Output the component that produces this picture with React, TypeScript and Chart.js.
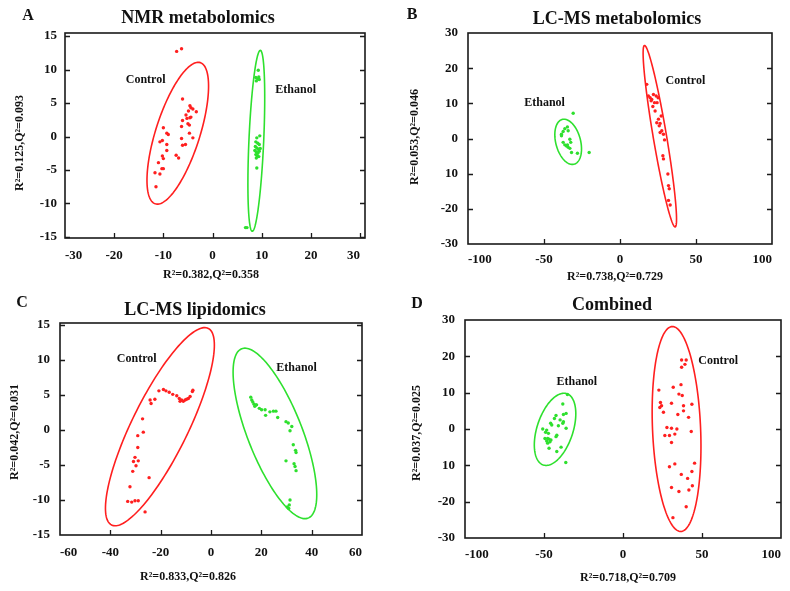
import React, { useEffect, useRef } from 'react';
import { Chart, registerables } from 'chart.js';
Chart.register(...registerables);

type XY = [number, number];

// ---------- Panel A: NMR metabolomics ----------
const aControl: XY[] = [[-7.3,12.7],[-6.3,13.1],[-6.1,5.6],[-4.6,4.6],[-4.4,4.3],[-4.9,3.8],[-4.0,4.1],[-3.3,3.7],[-5.4,3.2],[-5.2,2.7],[-4.6,2.8],[-6.1,2.4],[-6.3,1.5],[-5.0,1.9],[-4.7,1.7],[-4.4,2.9],[-10.0,1.3],[-9.3,0.5],[-9.0,0.3],[-10.7,-0.8],[-10.2,-0.6],[-9.3,-1.2],[-6.3,-0.3],[-6.1,-1.3],[-5.5,-1.2],[-4.7,0.5],[-4.0,-0.2],[-9.3,-2.1],[-10.2,-2.9],[-10.0,-3.3],[-7.4,-2.8],[-6.9,-3.2],[-11.0,-3.9],[-10.3,-4.8],[-10.0,-4.8],[-11.7,-5.4],[-10.7,-5.6],[-11.5,-7.5]];
const aEthanol: XY[] = [[9.3,9.9],[8.8,8.8],[9.2,8.6],[9.5,8.5],[8.9,8.3],[9.4,8.9],[9.6,0.1],[9.0,-0.2],[8.8,-0.8],[9.2,-1.0],[9.5,-1.2],[8.7,-1.5],[9.0,-1.7],[9.3,-1.9],[9.7,-1.8],[8.6,-2.1],[8.9,-2.3],[9.2,-2.5],[9.5,-2.2],[8.8,-2.7],[9.1,-2.9],[9.4,-3.0],[8.9,-3.2],[9.0,-4.7],[7.0,-13.6],[6.7,-13.6]];
const aXTicks = [-30, -20, -10, 0, 10, 20, 30];
const aXTickLabels = ['-30', '-20', '-10', '0', '10', '20', '30'];
const aYTicks = [-15, -10, -5, 0, 5, 10, 15];
const aYTickLabels = ['-15', '-10', '-5', '0', '5', '10', '15'];
// ellipse: [cx, cy, ux, uy, vx, vy]
const aControlEllipse = [-7.07, 0.49, 4.56, 10.54, 4.29, -0.96];
const aEthanolEllipse = [8.9, -0.64, 0.82, 13.5, 1.5, -0.05];
const aLabelPos: XY[] = [[-13.6, 8.4], [16.9, 6.9]];

// ---------- Panel B: LC-MS metabolomics ----------
const bControl: XY[] = [[17.6,15.4],[18.7,12.1],[19.8,11.6],[20.9,11.1],[22.0,12.5],[23.8,12.1],[25.1,11.6],[22.7,10.2],[21.6,9.1],[23.1,7.8],[25.3,5.5],[24.2,4.5],[26.4,4.3],[25.8,3.6],[27.5,2.2],[28.6,1.2],[29.3,-0.4],[26.4,1.7],[28.2,-4.9],[28.6,-5.8],[31.5,-10.1],[31.9,-13.4],[32.4,-14.3],[31.9,-17.6],[33.0,-18.9],[27.1,6.4],[20.5,10.7],[24.4,10.2]];
const bEthanol: XY[] = [[-30.8,7.2],[-34.6,3.3],[-36.3,2.8],[-37.4,2.0],[-38.5,0.75],[-34.1,2.2],[-33.0,-0.2],[-32.4,-1.1],[-37.4,-1.1],[-36.3,-1.8],[-35.2,-2.1],[-34.1,-2.5],[-33.0,-2.8],[-34.6,-1.8],[-31.9,-4.0],[-28.0,-4.2],[-20.3,-4.0],[-38.5,1.2]];
const bXTicks = [-100, -50, 0, 50, 100];
const bXTickLabels = ['-100', '-50', '0', '50', '100'];
const bYTicks = [-30, -20, -10, 0, 10, 20, 30];
const bYTickLabels = ['-30', '-20', '10', '0', '10', '20', '30'];
const bControlEllipse = [26.2, 0.66, -10.1, 25.8, 4.34, 0.31];
const bEthanolEllipse = [-34.1, -0.94, -3.85, 6.37, 7.89, 0.87];
const bLabelPos: XY[] = [[43, 16.3], [-49.6, 10.2]];

// ---------- Panel C: LC-MS lipidomics ----------
const cControl: XY[] = [[-33.1,-10.2],[-31.5,-10.3],[-30.2,-10.1],[-28.9,-10.1],[-32.2,-8.1],[-31.1,-5.9],[-30.8,-4.5],[-29.8,-5.1],[-30.2,-3.9],[-28.9,-4.4],[-29.1,-2.5],[-29.1,-0.8],[-26.9,-0.3],[-27.2,1.6],[-24.6,-6.8],[-26.2,-11.7],[-24.2,4.3],[-23.8,3.8],[-22.3,4.4],[-20.7,5.6],[-18.9,5.8],[-17.9,5.6],[-16.6,5.4],[-15.2,5.1],[-13.6,4.9],[-12.6,4.5],[-11.7,4.3],[-11.0,4.1],[-10.3,4.3],[-9.7,4.4],[-9.0,4.5],[-8.3,4.8],[-7.4,5.5],[-7.2,5.7],[-12.3,4.1]];
const cEthanol: XY[] = [[15.8,4.7],[16.2,4.3],[16.6,4.0],[17.1,3.7],[17.9,3.6],[19.2,3.1],[20.1,2.9],[21.5,2.9],[21.7,2.1],[23.4,2.6],[24.8,2.7],[25.8,2.7],[26.5,1.8],[29.8,1.2],[30.7,1.0],[32.1,0.5],[31.4,-0.1],[32.7,-2.1],[33.6,-2.9],[33.8,-3.2],[29.8,-4.4],[33.0,-4.8],[33.4,-5.2],[33.8,-5.8],[31.4,-10.0],[31.1,-10.7],[30.9,-11.2],[30.3,-11.0],[18.1,3.6],[17.4,3.4]];
const cXTicks = [-60, -40, -20, 0, 20, 40, 60];
const cXTickLabels = ['-60', '-40', '-20', '0', '20', '40', '60'];
const cYTicks = [-15, -10, -5, 0, 5, 10, 15];
const cYTickLabels = ['-15', '-10', '-5', '0', '5', '10', '15'];
const cControlEllipse = [-20.3, 0.48, 19.2, 14.05, 9.98, -1.76];
const cEthanolEllipse = [25.4, -0.48, -13.2, 12.1, 10.1, 1.42];
const cLabelPos: XY[] = [[-29.5, 10.1], [34, 8.9]];

// ---------- Panel D: Combined ----------
const dControl: XY[] = [[37.1,19.0],[40.0,19.0],[39.2,17.8],[37.1,17.0],[22.7,10.7],[31.8,11.5],[36.7,12.2],[35.4,9.6],[37.5,9.2],[23.7,7.3],[24.4,6.4],[23.3,5.9],[30.7,7.1],[38.3,6.4],[43.6,6.8],[25.6,4.6],[34.7,4.0],[38.3,5.0],[41.5,3.2],[27.8,0.4],[30.7,0.2],[34.1,0],[43.2,-0.7],[26.5,-1.8],[29.4,-1.8],[32.8,-1.4],[30.7,-3.7],[32.8,-9.6],[29.4,-10.4],[45.3,-9.4],[43.6,-11.7],[36.9,-12.5],[40.9,-13.6],[30.7,-16.1],[43.9,-15.6],[35.4,-17.2],[41.7,-16.8],[40.0,-21.4],[31.6,-24.4]];
const dEthanol: XY[] = [[-35.2,9.5],[-38.1,6.9],[-36.0,4.3],[-37.7,4.0],[-42.4,3.7],[-43.4,2.9],[-39.8,2.5],[-37.7,2.0],[-38.1,1.6],[-45.8,1.6],[-45.1,1.1],[-50.8,0],[-48.3,-0.3],[-49.0,-0.9],[-47.2,-1.2],[-36.0,0.2],[-41.9,-1.7],[-42.4,-2.1],[-49.4,-2.6],[-47.7,-2.6],[-46.8,-2.8],[-45.6,-3.0],[-48.3,-3.3],[-46.2,-3.5],[-47.7,-3.9],[-39.2,-5.0],[-46.8,-5.3],[-41.9,-6.2],[-36.2,-9.2],[-40.9,0.9]];
const dXTicks = [-100, -50, 0, 50, 100];
const dXTickLabels = ['-100', '-50', '0', '50', '100'];
const dYTicks = [-30, -20, -10, 0, 10, 20, 30];
const dYTickLabels = ['-30', '-20', '10', '0', '10', '20', '30'];
const dControlEllipse = [33.9, 0, -2.75, 28.2, 15.2, 0.28];
const dEthanolEllipse = [-43.0, -0.09, 7.42, 9.82, 10.83, -1.53];
const dLabelPos: XY[] = [[60.2, 18.7], [-29.2, 13.0]];

const RED = '#ff1f1f';
const GREEN = '#2ee02e';
const SERIF = "'Liberation Serif', 'Times New Roman', serif";

interface PanelCfg {
  letter: string; title: string; xLabel: string; yLabel: string;
  control: XY[]; ethanol: XY[];
  xTicks: number[]; xTickLabels: string[]; yTicks: number[]; yTickLabels: string[];
  xMin: number; xMax: number; yMin: number; yMax: number;
  controlEllipse: number[]; ethanolEllipse: number[]; labelPos: XY[];
  // layout (pixels inside the panel canvas)
  w: number; h: number; boxL: number; boxT: number; boxR: number; boxB: number;
  xPad: number; yPad: number;
  letterPos: XY; titlePos: XY; xLabelPos: XY; yLabelPos: XY;
}

const panels: { left: number; top: number; cfg: PanelCfg }[] = [
  { left: 0, top: 0, cfg: {
    letter: 'A', title: 'NMR metabolomics', xLabel: 'R²=0.382,Q²=0.358', yLabel: 'R²=0.125,Q²=0.093',
    control: aControl, ethanol: aEthanol, xTicks: aXTicks, xTickLabels: aXTickLabels, yTicks: aYTicks, yTickLabels: aYTickLabels,
    xMin: -30, xMax: 31, yMin: -15.15, yMax: 15.45,
    controlEllipse: aControlEllipse, ethanolEllipse: aEthanolEllipse, labelPos: aLabelPos,
    w: 395, h: 295, boxL: 65, boxT: 33, boxR: 365, boxB: 238, xPad: 10, yPad: 8,
    letterPos: [28, 16], titlePos: [198, 18], xLabelPos: [211, 275], yLabelPos: [20, 143],
  } },
  { left: 395, top: 0, cfg: {
    letter: 'B', title: 'LC-MS metabolomics', xLabel: 'R²=0.738,Q²=0.729', yLabel: 'R²=0.053,Q²=0.046',
    control: bControl, ethanol: bEthanol, xTicks: bXTicks, xTickLabels: bXTickLabels, yTicks: bYTicks, yTickLabels: bYTickLabels,
    xMin: -100, xMax: 100, yMin: -30, yMax: 30,
    controlEllipse: bControlEllipse, ethanolEllipse: bEthanolEllipse, labelPos: bLabelPos,
    w: 395, h: 295, boxL: 73, boxT: 33, boxR: 377, boxB: 244, xPad: 8, yPad: 10,
    letterPos: [17, 15], titlePos: [222, 19], xLabelPos: [220, 277], yLabelPos: [20, 137],
  } },
  { left: 0, top: 295, cfg: {
    letter: 'C', title: 'LC-MS lipidomics', xLabel: 'R²=0.833,Q²=0.826', yLabel: 'R²=0.042,Q²=0.031',
    control: cControl, ethanol: cEthanol, xTicks: cXTicks, xTickLabels: cXTickLabels, yTicks: cYTicks, yTickLabels: cYTickLabels,
    xMin: -60, xMax: 60, yMin: -15, yMax: 15.3,
    controlEllipse: cControlEllipse, ethanolEllipse: cEthanolEllipse, labelPos: cLabelPos,
    w: 395, h: 296, boxL: 60, boxT: 28, boxR: 362, boxB: 240, xPad: 10, yPad: 10,
    letterPos: [22, 8], titlePos: [195, 15], xLabelPos: [188, 282], yLabelPos: [15, 137],
  } },
  { left: 395, top: 295, cfg: {
    letter: 'D', title: 'Combined', xLabel: 'R²=0.718,Q²=0.709', yLabel: 'R²=0.037,Q²=0.025',
    control: dControl, ethanol: dEthanol, xTicks: dXTicks, xTickLabels: dXTickLabels, yTicks: dYTicks, yTickLabels: dYTickLabels,
    xMin: -100, xMax: 100, yMin: -30, yMax: 30,
    controlEllipse: dControlEllipse, ethanolEllipse: dEthanolEllipse, labelPos: dLabelPos,
    w: 395, h: 296, boxL: 70, boxT: 25, boxR: 386, boxB: 243, xPad: 9, yPad: 10,
    letterPos: [22, 9], titlePos: [217, 10], xLabelPos: [233, 283], yLabelPos: [22, 138],
  } },
];

function makeDecor(cfg: PanelCfg) {
  const drawEllipse = (chart: any, e: number[], color: string) => {
    const xs = chart.scales.x, ys = chart.scales.y;
    const ctx = chart.ctx as CanvasRenderingContext2D;
    ctx.save();
    ctx.strokeStyle = color;
    ctx.lineWidth = 1.6;
    ctx.beginPath();
    const n = 160;
    for (let i = 0; i <= n; i++) {
      const t = (i / n) * Math.PI * 2;
      const x = e[0] + e[2] * Math.cos(t) + e[4] * Math.sin(t);
      const y = e[1] + e[3] * Math.cos(t) + e[5] * Math.sin(t);
      const px = xs.getPixelForValue(x), py = ys.getPixelForValue(y);
      if (i === 0) ctx.moveTo(px, py); else ctx.lineTo(px, py);
    }
    ctx.closePath();
    ctx.stroke();
    ctx.restore();
  };
  return {
    id: 'decor' + cfg.letter,
    beforeDatasetsDraw(chart: any) {
      drawEllipse(chart, cfg.controlEllipse, RED);
      drawEllipse(chart, cfg.ethanolEllipse, GREEN);
    },
    afterDraw(chart: any) {
      const ctx = chart.ctx as CanvasRenderingContext2D;
      const a = chart.chartArea;
      const xs = chart.scales.x, ys = chart.scales.y;
      ctx.save();
      // frame
      ctx.strokeStyle = '#1a1a1a';
      ctx.lineWidth = 1.6;
      ctx.strokeRect(a.left, a.top, a.right - a.left, a.bottom - a.top);
      // inward tick marks
      ctx.lineWidth = 1.3;
      ctx.beginPath();
      cfg.xTicks.forEach((v) => {
        if (v <= cfg.xMin || v >= cfg.xMax) return;
        const px = Math.round(xs.getPixelForValue(v)) + 0.5;
        ctx.moveTo(px, a.bottom); ctx.lineTo(px, a.bottom - 5);
      });
      cfg.yTicks.forEach((v) => {
        if (v <= cfg.yMin || v >= cfg.yMax) return;
        const py = Math.round(ys.getPixelForValue(v)) + 0.5;
        ctx.moveTo(a.left, py); ctx.lineTo(a.left + 5, py);
        ctx.moveTo(a.right, py); ctx.lineTo(a.right - 5, py);
      });
      ctx.stroke();
      // group labels
      ctx.fillStyle = '#111';
      ctx.font = `bold 12px ${SERIF}`;
      ctx.textAlign = 'center';
      ctx.textBaseline = 'middle';
      const names = ['Control', 'Ethanol'];
      cfg.labelPos.forEach((p, i) => {
        ctx.fillText(names[i], xs.getPixelForValue(p[0]), ys.getPixelForValue(p[1]));
      });
      // panel letter
      ctx.font = `bold 16px ${SERIF}`;
      ctx.fillText(cfg.letter, cfg.letterPos[0], cfg.letterPos[1]);
      // title
      ctx.font = `bold 18px ${SERIF}`;
      ctx.fillText(cfg.title, cfg.titlePos[0], cfg.titlePos[1]);
      // axis labels
      ctx.font = `bold 12px ${SERIF}`;
      ctx.fillText(cfg.xLabel, cfg.xLabelPos[0], cfg.xLabelPos[1]);
      ctx.translate(cfg.yLabelPos[0], cfg.yLabelPos[1]);
      ctx.rotate(-Math.PI / 2);
      ctx.fillText(cfg.yLabel, 0, 0);
      ctx.restore();
    },
  };
}

function Panel({ cfg, left, top }: { cfg: PanelCfg; left: number; top: number }) {
  const ref = useRef<HTMLCanvasElement>(null);
  useEffect(() => {
    const tickFont = { family: SERIF, size: 13, weight: 'bold' as const };
    const chart = new Chart(ref.current!, {
      type: 'scatter',
      data: {
        datasets: [
          { label: 'Control', data: cfg.control.map(([x, y]) => ({ x, y })), backgroundColor: RED, borderWidth: 0, pointRadius: 1.7 },
          { label: 'Ethanol', data: cfg.ethanol.map(([x, y]) => ({ x, y })), backgroundColor: GREEN, borderWidth: 0, pointRadius: 1.7 },
        ],
      },
      options: {
        responsive: false,
        animation: false,
        devicePixelRatio: 1,
        layout: { padding: { left: 0, top: cfg.boxT, right: cfg.w - cfg.boxR, bottom: 0 } },
        plugins: { legend: { display: false }, tooltip: { enabled: false }, title: { display: false } },
        scales: {
          x: {
            type: 'linear', min: cfg.xMin, max: cfg.xMax,
            grid: { display: false, drawTicks: false }, border: { display: false },
            afterBuildTicks: (s: any) => { s.ticks = cfg.xTicks.map((v) => ({ value: v })); },
            afterFit: (s: any) => { s.height = cfg.h - cfg.boxB; s.paddingLeft = 0; s.paddingRight = 0; },
            ticks: {
              autoSkip: false, maxRotation: 0, minRotation: 0, padding: cfg.xPad, color: '#111', font: tickFont,
              align: 'inner',
              callback: (v: any) => cfg.xTickLabels[cfg.xTicks.indexOf(Number(v))] ?? '',
            },
          },
          y: {
            type: 'linear', min: cfg.yMin, max: cfg.yMax,
            grid: { display: false, drawTicks: false }, border: { display: false },
            afterBuildTicks: (s: any) => { s.ticks = cfg.yTicks.map((v) => ({ value: v })); },
            afterFit: (s: any) => { s.width = cfg.boxL; s.paddingTop = 0; s.paddingBottom = 0; },
            ticks: {
              autoSkip: false, padding: cfg.yPad, color: '#111', font: tickFont,
              callback: (v: any) => cfg.yTickLabels[cfg.yTicks.indexOf(Number(v))] ?? '',
            },
          },
        },
      } as any,
      plugins: [makeDecor(cfg)],
    });
    return () => chart.destroy();
  }, [cfg]);
  return (
    <canvas
      ref={ref}
      width={cfg.w}
      height={cfg.h}
      style={{ position: 'absolute', left, top, width: cfg.w, height: cfg.h, display: 'block' }}
    />
  );
}

export default function App() {
  return (
    <div style={{ position: 'fixed', left: 0, top: 0, width: 790, height: 591, background: '#fff', overflow: 'hidden' }}>
      {panels.map((p) => (
        <Panel key={p.cfg.letter} cfg={p.cfg} left={p.left} top={p.top} />
      ))}
    </div>
  );
}
